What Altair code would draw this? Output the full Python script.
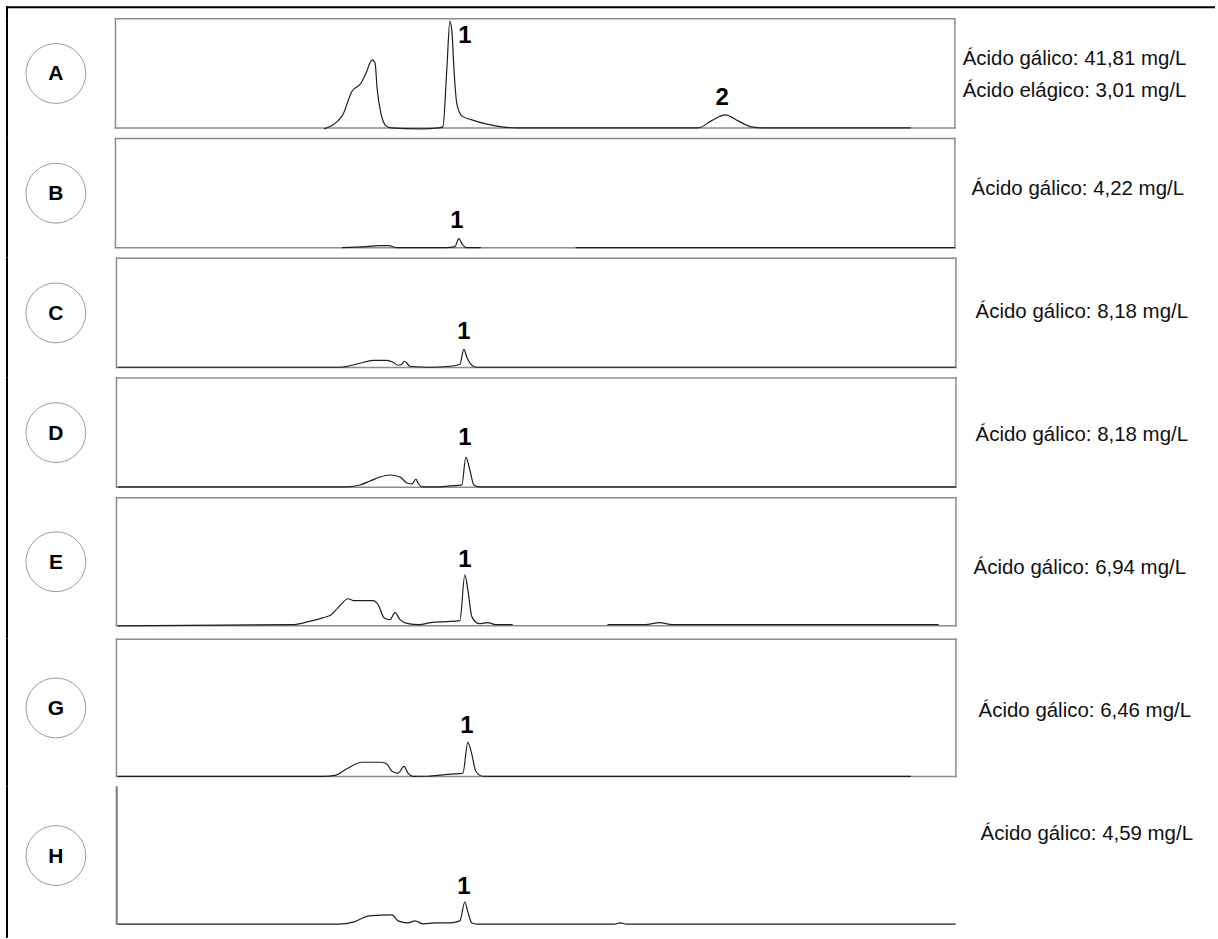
import altair as alt
import pandas as pd

# ---------------- data ----------------
SAMPLES = ["A", "B", "C", "D", "E", "G", "H"]
GALLIC = ["41,81", "4,22", "8,18", "8,18", "6,94", "6,46", "4,59"]
ELLAGIC_A = "3,01"

# retention time (min) and relative absorbance (% of each panel's full scale)
A_t = [10.5, 11.4, 11.9, 12.35, 12.6, 12.9, 13.05, 13.15, 13.35, 13.6, 13.85, 15.25, 16.25, 16.45, 16.65, 16.8,
       16.9, 17.0, 17.15, 17.4, 17.9, 18.6, 19.4, 20.1, 24.25, 29.25, 29.9, 30.6, 31.25, 31.9, 32.5, 39.9]
A_v = [0, 11.7, 34.2, 41.4, 50.5, 62.2, 59.5, 36.9, 13.5, 2.7, 0.9, 0, 0.9, 1.8, 55, 97.3,
       88.3, 55, 22.5, 11.7, 8.1, 4.5, 1.8, 0.9, 0.9, 0.9, 7.2, 12.6, 7.2, 1.8, 0.9, 0.9]
A_seg = [0] * 32

B_t = [11.4, 12.6, 13.25, 13.75, 14.1, 16.6, 17.05, 17.25, 17.4, 17.6, 18.35, 23.1, 42.1]
B_v = [0.9, 1.8, 2.7, 2.7, 0.9, 0.9, 1.8, 9.0, 4.5, 0.9, 0.9, 0.9, 0.9]
B_seg = [0, 0, 0, 0, 0, 0, 0, 0, 0, 0, 0, 1, 1]

C_t = [0.1, 11.25, 12.25, 12.9, 13.6, 13.9, 14.15, 14.35, 14.45, 14.6, 14.75, 15.75, 16.75, 17.25, 17.45,
       17.6, 17.85, 18.1, 42.1]
C_v = [0.9, 0.9, 4.5, 7.2, 7.2, 5.4, 2.7, 3.6, 6.3, 4.5, 1.8, 0.9, 1.8, 3.6, 17.1, 9.9, 2.7, 0.9, 0.9]
C_seg = [0] * 19

D_t = [0.1, 11.5, 12.25, 12.75, 13.25, 13.75, 14.25, 14.6, 14.85, 15.05, 15.15, 15.4, 16.1, 16.75, 17.35,
       17.55, 17.75, 17.95, 18.25, 42.1]
D_v = [0.9, 0.9, 2.7, 6.3, 9.9, 11.7, 9.9, 4.5, 3.6, 8.1, 4.5, 0.9, 0.9, 1.8, 2.7, 27.9, 16.2, 2.7, 0.9, 0.9]
D_seg = [0] * 20

E_t = [0.1, 8.85, 9.65, 10.4, 10.8, 11.15, 11.65, 11.95, 12.9, 13.15, 13.45, 13.75, 14.0, 14.25, 14.65,
       15.2, 15.8, 16.55, 17.25, 17.5, 17.65, 17.85, 18.2, 18.65, 19.05, 19.9, 24.65, 26.55, 27.25, 27.9, 41.25]
E_v = [0.6, 1.5, 3.8, 6.9, 9.2, 14.6, 21.5, 20, 20, 16.9, 6.9, 5.4, 10.8, 5.4, 2.3,
       1.5, 3.1, 3.8, 4.6, 40, 28.5, 7.7, 2.3, 3.1, 1.5, 1.5, 1.5, 1.5, 3.1, 1.5, 1.5]
E_seg = [0] * 26 + [1] * 5

G_t = [0.1, 10.4, 11.0, 11.55, 12.35, 13.3, 13.6, 13.85, 14.15, 14.45, 14.65, 14.9, 15.6, 16.15, 16.75,
       17.4, 17.65, 17.85, 18.05, 18.4, 18.85, 39.85]
G_v = [0.6, 0.6, 1.4, 5.8, 10.8, 10.8, 9.4, 4.3, 2.9, 7.9, 2.9, 0.6, 0.7, 1.4, 2.2, 2.9, 25.2, 16.5, 4.3, 0.7, 0.6, 0.6]
G_seg = [0] * 22

H_t = [0.1, 11.15, 11.95, 12.7, 13.85, 14.15, 14.65, 15.0, 15.4, 16.0, 16.75, 17.25, 17.5, 17.65, 17.85,
       18.1, 25.0, 25.3, 25.6, 42.1]
H_v = [0.6, 0.6, 2.2, 6.5, 7.2, 2.9, 1.4, 2.9, 0.7, 1.4, 1.4, 2.9, 16.5, 9.4, 1.4, 0.6, 0.6, 1.4, 0.6, 0.6]
H_seg = [0] * 20

PEAK_SAMPLE = ["A", "A", "B", "C", "D", "E", "G", "H"]
PEAK_NAME = ["1", "2", "1", "1", "1", "1", "1", "1"]
PEAK_T = [17.55, 30.45, 17.15, 17.45, 17.5, 17.5, 17.6, 17.45]
PEAK_V = [83.8, 27.9, 25.2, 32.4, 45, 51.5, 36.7, 27.3]

# ---------------- layout ----------------
PANEL_H = [111, 111, 111, 111, 130, 139, 139]
ROW_H = [120, 120, 120, 120, 142, 148, 152]
TEXT_X = [7, 14, 17, 17, 17, 22, 22]
TEXT_Y = [41, 51, 55, 58, 71, 73, 48]
LEFT_W, PLOT_W, RIGHT_W = 115, 843, 260
FONT = "Liberation Sans"
FRAME = "#8c8c8c"
NOSTROKE = alt.ViewBackground(stroke="transparent", strokeWidth=0)

traces = {
    "A": (A_t, A_v, A_seg), "B": (B_t, B_v, B_seg), "C": (C_t, C_v, C_seg),
    "D": (D_t, D_v, D_seg), "E": (E_t, E_v, E_seg), "G": (G_t, G_v, G_seg),
    "H": (H_t, H_v, H_seg),
}
peaks = pd.DataFrame({"sample": PEAK_SAMPLE, "name": PEAK_NAME, "t": PEAK_T, "v": PEAK_V})

xs = alt.Scale(domain=[0, 42.15], nice=False, zero=False)
ys = alt.Scale(domain=[0, 100], nice=False)
one = pd.DataFrame({"k": [0]})


def bar(x1, x2, y1, y2, color):
    return alt.Chart(one).mark_rect(color=color, strokeWidth=0).encode(
        x=alt.value(x1), x2=alt.value(x2), y=alt.value(y1), y2=alt.value(y2))


def left_col(i):
    s = SAMPLES[i]
    cdf = pd.DataFrame({"label": [s]})
    border = bar(6, 8, 0, ROW_H[i], "black")
    circ = alt.Chart(cdf).mark_point(shape="circle", size=3600, filled=False, color="#9b9b9b",
                                     strokeWidth=1, opacity=1).encode(
        x=alt.value(56), y=alt.value(PANEL_H[i] / 2))
    lab = alt.Chart(cdf).mark_text(fontSize=21, fontWeight="bold", color="black", font=FONT).encode(
        x=alt.value(56), y=alt.value(PANEL_H[i] / 2 + 1), text="label:N")
    return alt.layer(border, circ, lab).properties(width=LEFT_W, height=ROW_H[i], view=NOSTROKE)


def plot_col(i):
    s = SAMPLES[i]
    h = PANEL_H[i]
    t, v, seg = traces[s]
    df = pd.DataFrame({"t": t, "v": v, "seg": seg})
    line = alt.Chart(df).mark_line(color="#1e1e1e", strokeWidth=1.2, interpolate="monotone").encode(
        x=alt.X("t:Q", scale=xs, axis=None),
        y=alt.Y("v:Q", scale=ys, axis=None),
        detail="seg:N",
    )
    pk = alt.Chart(peaks[peaks["sample"] == s]).mark_text(
        fontSize=24, fontWeight="bold", color="black", font=FONT, baseline="middle").encode(
        x=alt.X("t:Q", scale=xs, axis=None),
        y=alt.Y("v:Q", scale=ys, axis=None),
        text="name:N",
    )
    if s == "H":
        frame = [bar(0, 2, 0, h, "#7a7a7a")]
    else:
        frame = [bar(0, 1.5, 0, h, FRAME), bar(PLOT_W - 1.5, PLOT_W, 0, h, FRAME),
                 bar(0, PLOT_W, 0, 1.5, FRAME), bar(0, PLOT_W, h - 1.5, h, FRAME)]
    return alt.layer(*frame, line, pk).properties(width=PLOT_W, height=h, view=NOSTROKE)


def right_col(i):
    s = SAMPLES[i]
    lines = ["Ácido gálico: " + GALLIC[i] + " mg/L"]
    ypos = [TEXT_Y[i]]
    if s == "A":
        lines.append("Ácido elágico: " + ELLAGIC_A + " mg/L")
        ypos = [TEXT_Y[i], TEXT_Y[i] + 32]
    marks = []
    for txt, yy in zip(lines, ypos):
        marks.append(alt.Chart(pd.DataFrame({"txt": [txt]})).mark_text(
            fontSize=20.5, color="#111111", font=FONT, align="left", baseline="middle").encode(
            x=alt.value(TEXT_X[i]), y=alt.value(yy), text="txt:N"))
    return alt.layer(*marks).properties(width=RIGHT_W, height=PANEL_H[i], view=NOSTROKE)


TOTAL_W = LEFT_W + PLOT_W + RIGHT_W
spacer = alt.layer(bar(6, TOTAL_W, 5, 7, "black"), bar(6, 8, 5, 17, "black")).properties(
    width=TOTAL_W, height=17, view=NOSTROKE)

rows = [alt.hconcat(left_col(i), plot_col(i), right_col(i), spacing=0)
        for i in range(len(SAMPLES))]

chart = alt.vconcat(spacer, *rows, spacing=0).properties(
    padding=0, background="white"
).configure_view(stroke="transparent", strokeWidth=0).configure(font=FONT)

chart.save("out.html", embed_options={"renderer": "svg", "actions": False})
